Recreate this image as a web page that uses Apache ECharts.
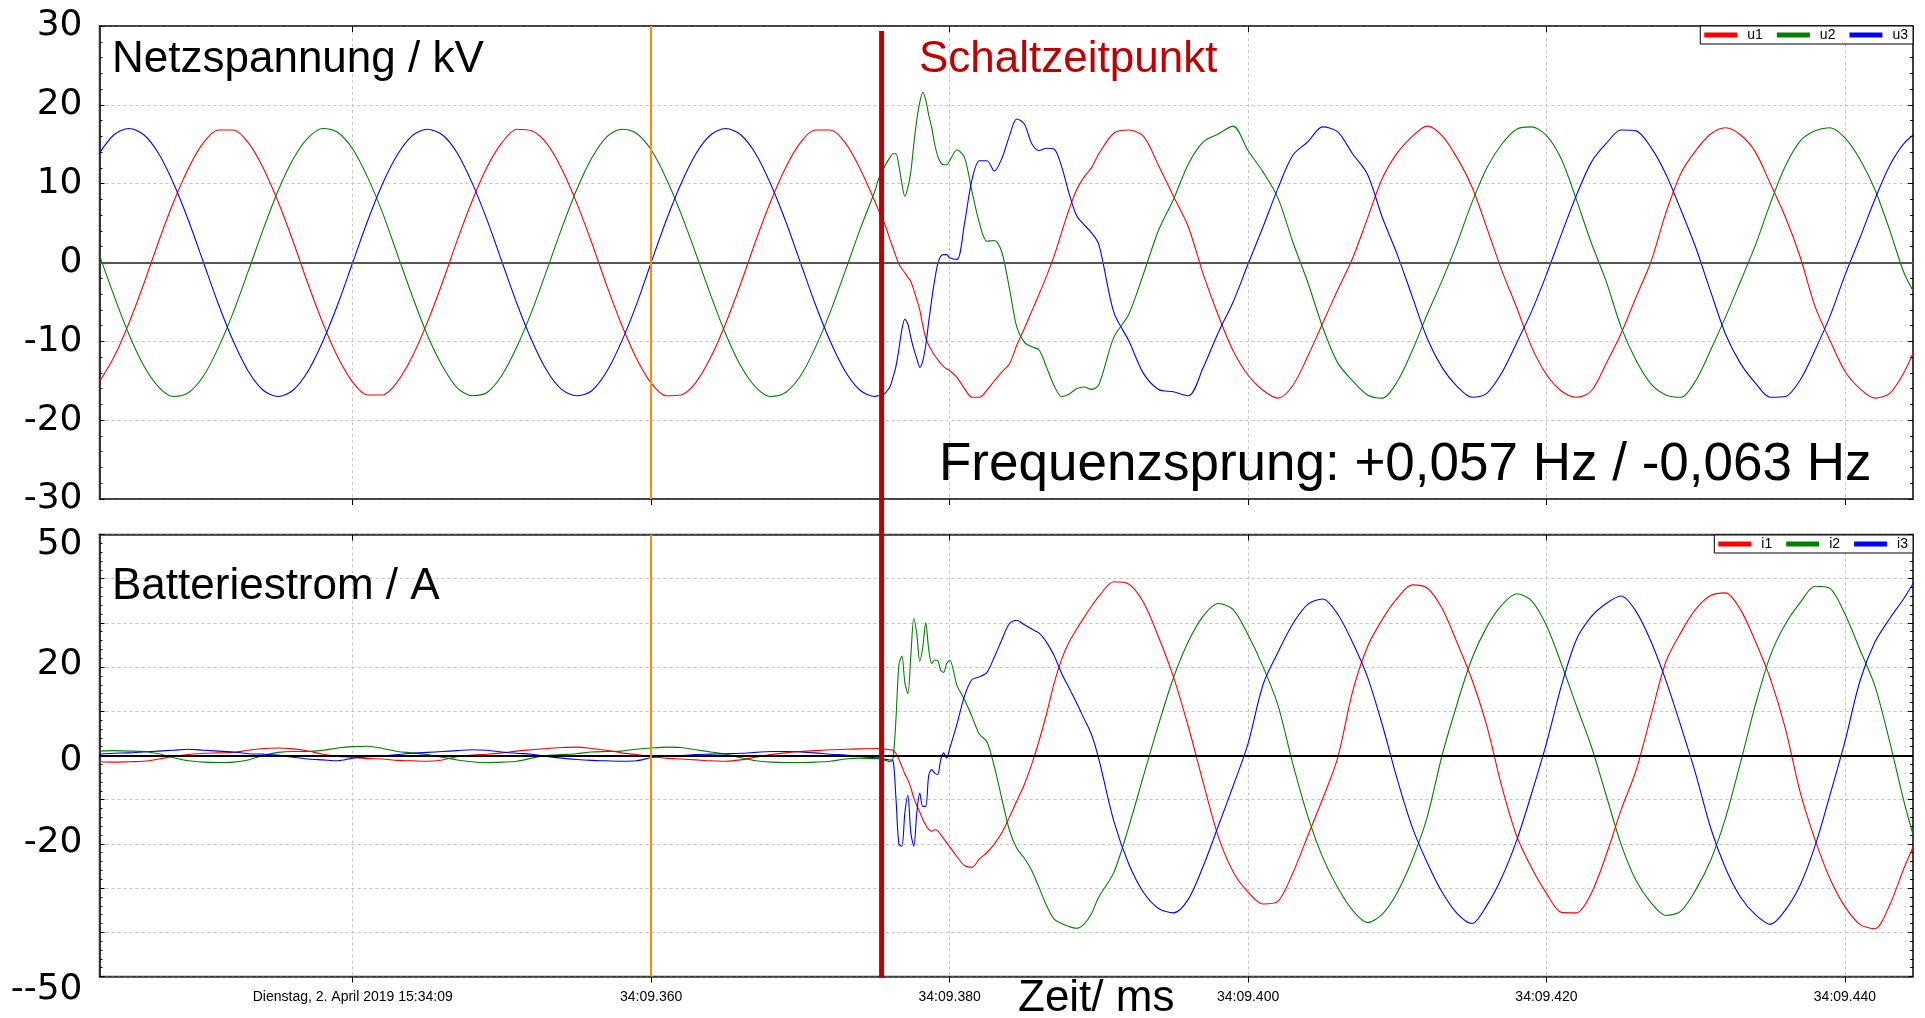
<!DOCTYPE html>
<html><head><meta charset="utf-8">
<script src="https://cdn.jsdelivr.net/npm/echarts/dist/echarts.min.js"></script>
<style>html,body{margin:0;padding:0;background:#fff}#c{width:1925px;height:1018px}</style>
</head><body><div id="c"></div>
<script>
// ---- sample times (ms after 15:34:09.000) ----
const timesMs = [
323,324,325,326,327,328,329,330,331,332,333,334,335,336,337,338,339,340,341,342,
343,344,345,346,347,348,349,350,351,352,353,354,355,356,357,358,359,360,361,362,
363,364,365,366,367,368,369,370,371,372,373,374,375,
375.2,375.4,375.6,375.8,376,376.2,376.4,376.6,376.8,377,377.2,377.4,377.6,377.8,378,378.2,378.4,378.6,378.8,379,379.2,379.4,379.6,379.8,380,
380.5,381,381.5,382,382.5,383,383.5,384,384.5,385,385.5,386,386.5,387,387.5,388,388.5,389,389.5,390,
391,392,393,394,395,396,397,398,399,400,401,402,403,404,405,406,407,408,409,410,
411,412,413,414,415,416,417,418,419,420,421,422,423,424,425,426,427,428,429,430,
431,432,433,434,435,436,437,438,439,440,441,442,443,444,445
];
// ---- Netzspannung / kV ----
const u1 = [
-15.2,-12.0,-7.7,-2.7,2.7,7.7,12.0,15.2,16.8,16.8,15.2,12.0,7.7,2.7,-2.7,-7.7,-12.0,-15.2,-16.8,-16.8,
-15.1,-11.9,-7.6,-2.6,2.8,7.8,12.1,15.2,16.9,16.7,15.1,11.9,7.6,2.6,-2.8,-7.8,-12.1,-15.3,-16.9,-16.8,
-15.2,-12.0,-7.7,-2.7,2.7,7.7,12.0,15.2,16.8,16.8,15.2,11.9,7.7,
6.8,5.9,5.1,4.1,2.9,1.9,0.8,-0.2,-0.8,-1.3,-1.9,-2.4,-3.5,-4.7,-6.0,-8.0,-9.6,-10.5,-11.2,-11.8,-12.3,-12.8,-13.2,-13.5,-13.7,
-14.6,-16.0,-17.1,-17.1,-16.2,-15.0,-13.9,-12.9,-10.5,-8.4,-6.2,-4.0,-1.7,0.8,3.8,6.7,9.2,10.8,12.0,13.8,
16.4,16.8,16.0,12.3,8.4,4.5,-1.5,-6.7,-11.2,-14.3,-16.2,-17.2,-15.6,-11.9,-7.7,-3.5,0.5,5.6,10.7,13.9,
16.0,17.3,16.1,13.3,9.6,4.4,-1.0,-5.7,-10.7,-14.2,-16.3,-17.1,-16.3,-12.8,-9.0,-4.4,0.1,6.3,11.3,14.2,
16.3,17.1,16.2,14.0,10.0,5.8,0.7,-5.6,-9.9,-13.8,-16.0,-17.2,-16.6,-13.8,-9.5
];
const u2 = [
1.1,-4.2,-9.1,-13.1,-15.8,-17.0,-16.5,-14.4,-10.8,-6.3,-1.1,4.2,9.1,13.1,15.8,17.0,16.5,14.4,10.8,6.3,
1.0,-4.3,-9.2,-13.1,-15.9,-16.9,-16.5,-14.3,-10.7,-6.2,-1.0,4.3,9.2,13.2,15.9,16.9,16.4,14.3,10.7,6.2,
1.1,-4.2,-9.1,-13.1,-15.8,-17.0,-16.5,-14.4,-10.8,-6.3,-1.1,4.2,9.1,
10.4,11.2,12.0,12.7,13.3,13.8,13.8,12.3,10.0,8.4,9.5,11.5,15.0,18.1,20.3,21.6,20.6,18.7,17.1,15.0,13.5,12.7,12.4,12.4,12.9,
14.3,13.3,9.0,5.0,2.7,2.8,1.3,-3.2,-8.2,-10.1,-10.7,-11.1,-13.3,-15.6,-17.0,-16.7,-16.0,-15.8,-16.1,-15.5,
-9.5,-6.6,-1.4,4.1,8.0,12.5,15.3,16.3,17.3,14.2,11.5,8.2,2.6,-2.5,-8.2,-12.7,-15.0,-16.8,-17.2,-15.1,
-11.2,-6.6,-2.3,2.4,7.6,12.0,15.0,16.9,17.2,16.1,13.1,8.0,2.5,-2.4,-8.2,-12.4,-15.4,-16.8,-17.1,-15.0,
-11.1,-6.9,-2.4,2.2,7.5,12.2,15.4,16.7,17.1,15.8,13.1,9.3,4.1,-1.5,-5.0
];
const u3 = [
13.8,16.2,17.0,16.2,13.8,10.0,5.3,0.0,-5.3,-10.0,-13.8,-16.2,-17.0,-16.2,-13.8,-10.0,-5.3,0.0,5.3,10.0,
13.7,16.1,16.9,16.2,13.9,10.1,5.4,0.1,-5.2,-9.9,-13.7,-16.1,-16.9,-16.3,-13.9,-10.1,-5.4,0.0,5.3,10.0,
13.8,16.2,17.0,16.2,13.8,10.0,5.3,0.0,-5.3,-10.0,-13.8,-16.2,-17.0,
-16.9,-16.9,-16.7,-16.3,-15.8,-14.6,-13.2,-11.0,-8.5,-7.2,-7.8,-9.5,-11.0,-12.2,-13.3,-12.5,-10.5,-7.5,-4.7,-2.2,-0.2,0.8,1.0,1.0,0.6,
0.4,5.0,10.5,12.9,12.9,11.6,13.2,16.0,18.2,17.6,15.1,14.2,14.5,14.4,12.2,8.8,6.0,4.8,3.8,2.3,
-6.3,-9.9,-14.1,-16.1,-16.4,-16.9,-13.3,-8.9,-5.0,-0.2,4.5,9.4,13.6,15.3,17.2,16.6,13.8,11.2,5.7,1.0,
-4.3,-9.6,-13.3,-15.7,-17.1,-16.6,-14.0,-10.2,-6.2,-1.5,3.6,8.5,12.7,15.1,16.8,16.7,14.6,11.2,6.7,1.9,
-3.7,-9.1,-12.8,-15.3,-17.1,-17.0,-14.9,-11.1,-6.8,-1.6,3.1,8.0,12.3,15.2,16.8
];
// ---- Batteriestrom / A ----
const i1 = [
-1.4,-1.5,-1.4,-1.3,-0.8,-0.2,0.2,0.5,0.6,0.7,1.2,1.6,1.7,1.5,1.0,0.3,-0.2,-0.4,-0.7,-0.8,
-1.1,-1.2,-1.3,-1.0,-0.3,0.1,0.3,0.6,1.0,1.3,1.6,1.8,1.9,1.6,1.2,0.6,0.2,-0.2,-0.6,-0.8,
-1.0,-1.2,-1.3,-1.0,-0.4,0.2,0.6,0.9,1.1,1.3,1.4,1.5,1.6,
1.6,1.6,1.5,1.4,1.3,1.2,0.5,-0.8,-2.5,-4.2,-5.5,-7.3,-9.6,-11.3,-12.8,-14.4,-15.7,-16.7,-17.1,-16.8,-17.0,-17.9,-18.8,-19.7,-20.6,
-22.9,-24.9,-25.3,-23.4,-22.0,-20.0,-17.5,-14.0,-10.3,-6.6,-2.0,3.4,9.5,16.3,21.7,25.6,28.5,31.2,33.7,36.0,
39.3,38.8,34.6,26.8,17.8,6.5,-6.2,-18.3,-26.3,-30.9,-33.6,-33.0,-26.6,-18.2,-9.8,-0.6,14.4,24.6,30.8,35.6,
38.6,37.9,33.3,25.6,17.2,6.7,-7.0,-18.2,-25.4,-31.2,-35.5,-35.6,-31.2,-22.5,-12.3,-3.4,9.0,21.2,27.8,33.1,
36.2,36.8,33.0,25.8,17.4,6.2,-8.3,-19.1,-27.9,-34.2,-38.2,-39.2,-33.8,-25.1,-17.5
];
const i2 = [
1.0,1.1,1.0,0.9,0.4,-0.5,-1.2,-1.5,-1.6,-1.5,-1.0,0.0,0.7,0.9,0.9,1.2,1.7,2.0,2.1,1.6,
0.9,0.6,0.2,-0.4,-1.0,-1.4,-1.6,-1.5,-1.3,-0.6,0.0,0.2,0.4,0.8,0.9,1.0,1.4,1.7,1.9,1.8,
1.3,0.8,0.3,-0.5,-1.2,-1.5,-1.6,-1.6,-1.5,-1.3,-0.8,-0.6,-0.7,
-0.7,-0.8,-1.0,-1.2,-1.4,-0.8,8.0,20.5,22.5,16.5,14.0,22.5,31.0,27.5,21.3,24.5,30.0,24.0,20.8,21.6,21.5,19.3,18.8,20.8,21.6,
15.8,12.6,8.8,4.8,3.1,-2.5,-9.8,-16.8,-21.0,-23.2,-26.0,-29.9,-34.0,-37.0,-38.0,-38.7,-39.1,-38.2,-35.8,-32.0,
-26.5,-16.2,-4.5,7.0,17.6,25.8,31.6,34.4,33.0,27.3,20.1,11.4,-1.9,-13.7,-23.0,-29.8,-35.0,-37.8,-35.9,-31.0,
-23.6,-14.0,0.0,11.6,21.9,29.1,34.0,36.6,35.0,29.4,20.7,11.3,2.1,-9.0,-20.1,-28.3,-33.3,-36.2,-35.2,-30.4,
-23.7,-14.1,-1.6,11.5,22.6,29.7,34.6,38.3,37.8,32.0,24.0,15.8,3.1,-11.0,-23.0
];
const i3 = [
0.3,0.5,0.6,0.8,1.0,1.2,1.4,1.2,1.0,0.8,0.4,0.3,0.1,-0.4,-0.8,-1.0,-1.2,-0.6,-0.3,-0.1,
0.2,0.5,0.7,0.9,1.1,1.3,1.2,0.8,0.5,0.3,-0.2,-0.6,-0.9,-1.1,-1.2,-1.3,-1.2,-0.5,-0.2,0.0,
0.2,0.3,0.4,0.5,0.7,0.9,0.9,0.8,0.6,0.3,0.1,-0.2,-0.5,
-0.5,-0.6,-0.8,-0.9,-1.0,-1.1,-9.5,-20.0,-20.5,-13.0,-9.0,-17.5,-20.5,-13.0,-8.5,-11.5,-11.5,-4.5,-3.2,-4.0,-4.3,-1.0,0.6,-0.6,1.5,
7.2,13.5,17.2,17.8,18.8,22.3,26.2,29.8,30.6,29.6,28.6,27.7,25.6,22.6,18.6,15.3,12.0,8.4,4.8,-0.8,
-14.8,-24.5,-31.0,-34.6,-35.6,-32.5,-25.0,-16.0,-6.9,2.7,16.0,23.3,29.8,34.2,35.4,32.0,25.6,17.8,6.9,-5.4,
-16.2,-24.2,-30.9,-35.7,-38.0,-33.9,-27.6,-19.2,-8.6,2.8,15.8,26.2,31.4,34.4,36.1,32.6,25.8,17.0,6.7,-4.2,
-16.4,-25.5,-32.0,-36.0,-38.2,-35.0,-29.3,-20.4,-8.9,3.2,16.8,25.6,31.0,35.8,41.5
];
// ---- axis ticks / labels ----
const xTickValues = [340, 360, 380, 400, 420, 440];
const xTickLabels = ['Dienstag, 2. April 2019 15:34:09', '34:09.360', '34:09.380', '34:09.400', '34:09.420', '34:09.440'];
const uTickValues = [30, 20, 10, 0, -10, -20, -30];
const uTickLabels = ['30', '20', '10', '0', '-10', '-20', '-30'];
const iTickValues = [50, 20, 0, -20, -50];
const iTickLabels = ['50', '20', '0', '-20', '--50'];
const iLabelShiftPx = [10, -2, 5, -1, 13];   // the overlaid labels sit slightly off their ticks
const timeRange = [323.03, 444.56];
const cursorTimeMs = 360;      // orange cursor
const switchTimeMs = 375.44;   // Schaltzeitpunkt

const RED = '#FF0000', GREEN = '#008000', BLUE = '#0000FF';
const GRIDS = [{left: 99.5, right: 12, top: 26, height: 473}, {left: 99.5, right: 12, top: 534.5, height: 442}];

const chart = echarts.init(document.getElementById('c'), null, {renderer: 'canvas'});

function labelFor(values, labels, shifts) {
  return v => {
    const k = values.findIndex(x => Math.abs(x - v) < 1e-6);
    if (k < 0) return '';
    return shifts ? `{s${k}|${labels[k]}}` : labels[k];
  };
}
function richFor(shifts) {
  const r = {};
  shifts.forEach((sh, k) => {
    r['s' + k] = {fontFamily: 'DejaVu Sans', fontSize: 36, color: '#000',
      padding: sh >= 0 ? [2 * sh, 0, 0, 0] : [0, 0, -2 * sh, 0]};
  });
  return r;
}
function xAxisDef(gi, pos, withLabels) {
  return {
    type: 'value', gridIndex: gi, position: pos, min: timeRange[0], max: timeRange[1],
    axisLine: {show: true, onZero: false, lineStyle: {color: '#333', width: 1.5}},
    axisTick: {show: true, inside: pos === 'top', length: 6, customValues: xTickValues, lineStyle: {color: '#000', width: 1}},
    axisLabel: {show: withLabels, customValues: xTickValues, formatter: labelFor(xTickValues, xTickLabels),
      fontFamily: 'Liberation Sans, Arial, sans-serif', fontSize: 14, color: '#000', margin: 14},
    splitLine: {show: pos === 'bottom', lineStyle: {color: '#c4c4c4', type: [3, 3], width: 1}},
    minorTick: {show: false}
  };
}
function yAxisDef(gi, pos, min, max, values, labels, shifts) {
  const lab = {show: pos === 'left', formatter: labelFor(values, labels, shifts), fontFamily: 'DejaVu Sans', fontSize: 36, color: '#000', margin: 17};
  if (shifts) lab.rich = richFor(shifts);
  return {
    type: 'value', gridIndex: gi, position: pos, min, max, interval: 10,
    axisLine: {show: true, lineStyle: {color: '#333', width: pos === 'left' ? 2 : 1.5}},
    axisTick: {show: true, inside: true, length: 5, lineStyle: {color: '#000'}},
    minorTick: {show: true, splitNumber: 5, length: 3, lineStyle: {color: '#000'}},
    axisLabel: lab,
    splitLine: {show: pos === 'left', lineStyle: {color: '#c4c4c4', type: [3, 3], width: 1}}
  };
}
function lineSeries(name, vals, color, gi) {
  return {
    type: 'line', name, xAxisIndex: gi * 2, yAxisIndex: gi * 2,
    data: timesMs.map((t, k) => [t, vals[k]]),
    showSymbol: false, symbol: 'none', smooth: 0.3, clip: true,
    lineStyle: {color, width: 1.1}, itemStyle: {color}, z: 3, animation: false
  };
}
function refLines(zeroColor) {
  return {
    silent: true, symbol: ['none', 'none'], animation: false, label: {show: false},
    data: [
      {yAxis: 0, lineStyle: {color: zeroColor, width: 2, type: 'solid'}},
      {xAxis: cursorTimeMs, lineStyle: {color: '#FF8C00', width: 2, type: 'solid'}}
    ]
  };
}
const legendBase = {
  orient: 'horizontal', right: 12, icon: 'rect', itemWidth: 33, itemHeight: 5, itemGap: 14,
  backgroundColor: '#fff', borderColor: '#000', borderWidth: 1, padding: [2, 5, 2, 4],
  selectedMode: false,
  textStyle: {fontFamily: "'Liberation Sans Narrow', 'Arial Narrow', 'Liberation Sans', sans-serif", fontSize: 14, color: '#000', padding: [0, 0, 0, 5]}
};

const s = [
  lineSeries('u1', u1, RED, 0), lineSeries('u2', u2, GREEN, 0), lineSeries('u3', u3, BLUE, 0),
  lineSeries('i1', i1, RED, 1), lineSeries('i2', i2, GREEN, 1), lineSeries('i3', i3, BLUE, 1)
];
s[0].markLine = refLines('#555');
s[3].markLine = refLines('#000');

const bigFont = 'Liberation Sans, Arial, sans-serif';
function txt(id, text, x, y, size, color) {
  return {type: 'text', id, x, y, z: 50, style: {text, fontFamily: bigFont, fontSize: size, fill: color, align: 'left', verticalAlign: 'middle'}};
}

chart.setOption({
  animation: false,
  backgroundColor: '#fff',
  grid: GRIDS.map(g => Object.assign({show: true, borderColor: '#333', borderWidth: 1.5, backgroundColor: 'transparent', outerBoundsMode: 'none', containLabel: false}, g)),
  xAxis: [xAxisDef(0, 'bottom', false), xAxisDef(0, 'top', false), xAxisDef(1, 'bottom', true), xAxisDef(1, 'top', false)],
  yAxis: [yAxisDef(0, 'left', -30, 30, uTickValues, uTickLabels), yAxisDef(0, 'right', -30, 30, uTickValues, uTickLabels),
          yAxisDef(1, 'left', -50, 50, iTickValues, iTickLabels, iLabelShiftPx), yAxisDef(1, 'right', -50, 50, iTickValues, iTickLabels)],
  legend: [
    Object.assign({}, legendBase, {top: 26, data: ['u1', 'u2', 'u3']}),
    Object.assign({}, legendBase, {top: 535, data: ['i1', 'i2', 'i3']})
  ],
  series: s,
  graphic: [
    txt('t1', 'Netzspannung / kV', 112, 60, 44, '#000'),
    txt('t2', 'Schaltzeitpunkt', 919, 60, 44, '#C00000'),
    txt('t3', 'Frequenzsprung: +0,057 Hz / -0,063 Hz', 939, 465, 53, '#000'),
    txt('t4', 'Batteriestrom / A', 112, 587, 44, '#000'),
    txt('t5', 'Zeit/ ms', 1018, 999, 44, '#000')
  ]
});

const swX = chart.convertToPixel({xAxisIndex: 0}, switchTimeMs);
chart.setOption({graphic: [{type: 'line', id: 'switch', z: 40,
  shape: {x1: swX, y1: 31, x2: swX, y2: 978}, style: {stroke: '#C00000', lineWidth: 5}}]});
</script></body></html>
